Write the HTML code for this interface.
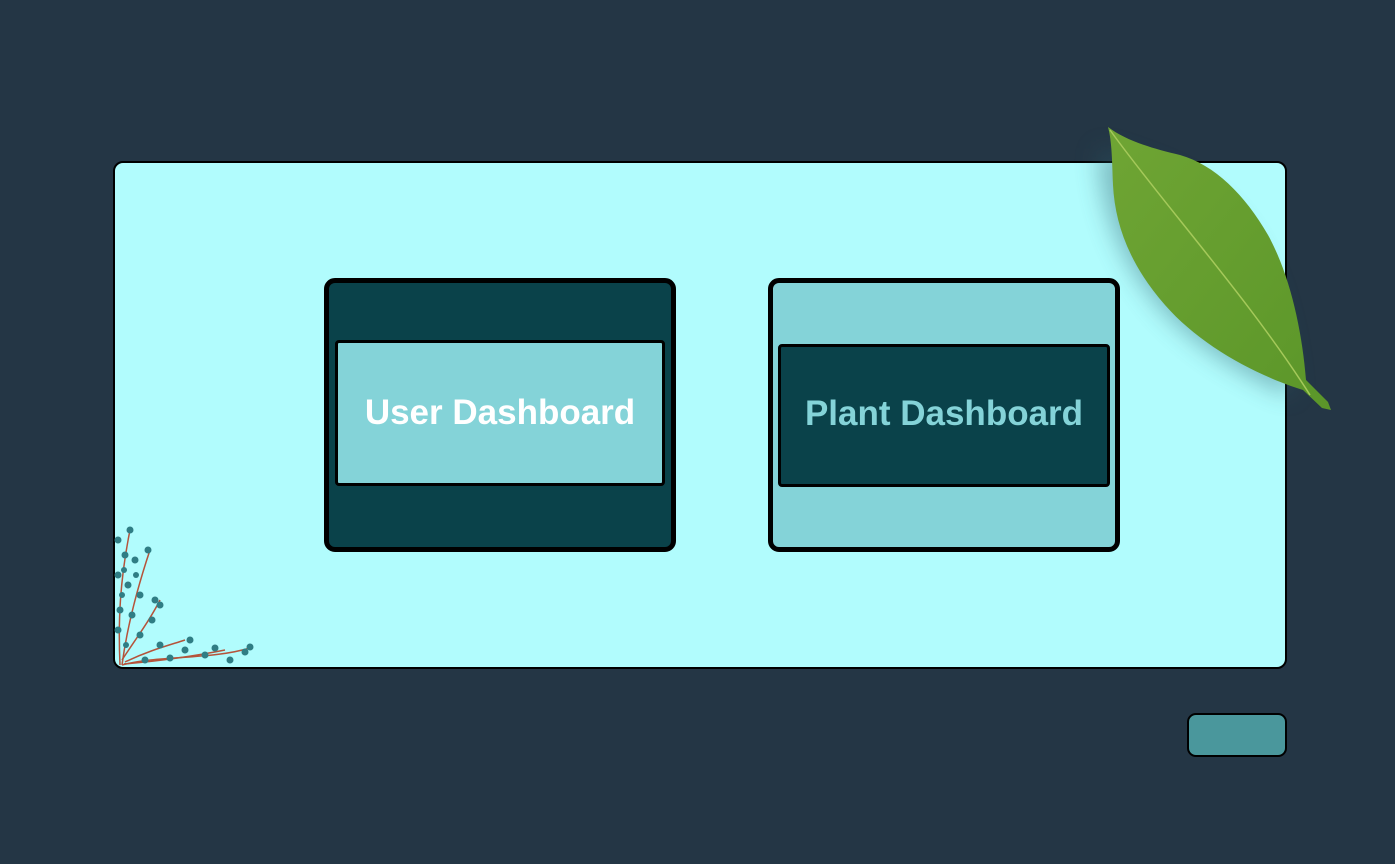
<!DOCTYPE html>
<html><head><meta charset="utf-8"><style>
html,body{margin:0;padding:0}
body{width:1395px;height:864px;background:#243645;position:relative;overflow:hidden;font-family:"Liberation Sans",sans-serif}
.abs{position:absolute;box-sizing:border-box}
.panel{left:113px;top:161px;width:1174px;height:508px;background:#b1fcfd;border:2px solid #000;border-radius:10px}
.card{border:5px solid #000;border-radius:11px}
.inner{border:3px solid #000;border-radius:4px;display:flex;align-items:center;justify-content:center;font-weight:bold;font-size:35px}
</style></head><body>
<div class="abs panel"></div>
<div class="abs card" style="left:324px;top:278px;width:352px;height:274px;background:#0a424a"></div>
<div class="abs inner" style="left:335px;top:340px;width:330px;height:146px;background:#84d3d8;color:#fff">User Dashboard</div>
<div class="abs card" style="left:768px;top:278px;width:352px;height:274px;background:#84d3d8"></div>
<div class="abs inner" style="left:778px;top:344px;width:332px;height:143px;background:#0a424a;color:#84d3d8;padding-bottom:4px">Plant Dashboard</div>
<div class="abs" style="left:1187px;top:713px;width:100px;height:44px;background:#4a979c;border:2px solid #000;border-radius:9px"></div>
<svg class="abs" style="left:0;top:0" width="1395" height="864">
<defs>
<filter id="sh" x="-30%" y="-30%" width="160%" height="160%"><feGaussianBlur stdDeviation="12"/></filter>
<linearGradient id="lg" x1="0" y1="0" x2="1" y2="1"><stop offset="0" stop-color="#6fa534"/><stop offset="1" stop-color="#5b9629"/></linearGradient>
</defs>
<path d="M1110,135 C1150,150 1200,160 1240,200 C1285,250 1300,320 1305,385 C1270,370 1200,335 1160,280 C1125,235 1110,180 1110,135 Z" fill="#2a5a66" opacity="0.4" filter="url(#sh)" transform="translate(-12,12)"/>
<path d="M1108,127 C1125,140 1150,148 1180,155 C1215,165 1245,195 1268,235 C1290,275 1302,330 1306,380 L1328,402 L1331,410 L1322,408 L1303,390 C1255,375 1200,345 1165,305 C1130,265 1115,225 1113,185 C1112,160 1112,142 1108,127 Z" fill="url(#lg)"/>
<path d="M1110,130 C1160,200 1250,300 1310,395" stroke="#a5c95a" stroke-width="1.5" fill="none"/>
<g stroke="#b5533a" stroke-width="1.5" fill="none">
<path d="M120,665 C118,620 120,580 130,530"/>
<path d="M122,665 C128,620 140,580 150,550"/>
<path d="M122,660 C135,640 150,620 160,600"/>
<path d="M122,665 C160,655 210,660 250,648"/>
<path d="M125,662 C150,650 170,645 185,640"/>
<path d="M124,664 C170,660 200,655 225,650"/>
</g>
<g fill="#2f7d84">
<circle cx="130" cy="530" r="3.5"/><circle cx="118" cy="540" r="3.5"/><circle cx="125" cy="555" r="3.5"/><circle cx="135" cy="560" r="3.5"/><circle cx="148" cy="550" r="3.5"/><circle cx="118" cy="575" r="3.5"/><circle cx="128" cy="585" r="3.5"/><circle cx="140" cy="595" r="3.5"/><circle cx="155" cy="600" r="3.5"/><circle cx="160" cy="605" r="3.5"/><circle cx="120" cy="610" r="3.5"/><circle cx="132" cy="615" r="3.5"/><circle cx="152" cy="620" r="3.5"/><circle cx="118" cy="630" r="3.5"/><circle cx="140" cy="635" r="3.5"/><circle cx="160" cy="645" r="3.5"/><circle cx="185" cy="650" r="3.5"/><circle cx="190" cy="640" r="3.5"/><circle cx="205" cy="655" r="3.5"/><circle cx="215" cy="648" r="3.5"/><circle cx="230" cy="660" r="3.5"/><circle cx="245" cy="652" r="3.5"/><circle cx="250" cy="647" r="3.5"/><circle cx="170" cy="658" r="3.5"/><circle cx="145" cy="660" r="3.5"/><circle cx="124" cy="570" r="3"/><circle cx="136" cy="575" r="3"/><circle cx="126" cy="645" r="3"/><circle cx="122" cy="595" r="3"/>
</g>
</svg>
</body></html>
